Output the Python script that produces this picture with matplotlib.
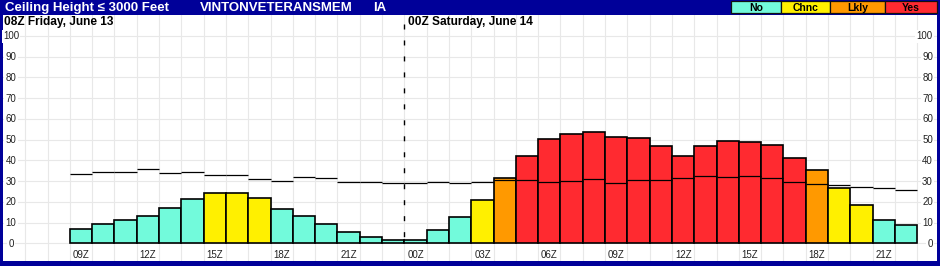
import matplotlib
matplotlib.use("Agg")
import matplotlib.pyplot as plt
from matplotlib.patches import Rectangle
import numpy as np

plt.rcParams['font.family'] = ['Liberation Sans', 'DejaVu Sans']

# hourly columns, 09Z Fri .. 22Z Sat (0 = 00Z Saturday)
hours = np.arange(-15, 23)

# probability of ceiling <= 3000 ft (bars)
prob = [7.0, 9.2, 11.2, 13.0, 16.9, 21.2, 24.1, 24.1, 21.7, 16.4,
        13.0, 9.2, 5.3, 2.9, 1.4, 1.4, 6.4, 12.5, 20.7, 31.3,
        42.0, 50.2, 52.6, 53.5, 51.1, 50.6, 46.8, 42.0, 46.8, 49.2,
        48.7, 47.3, 41.0, 35.2, 26.5, 18.3, 11.1, 8.7]

# black reference line per hour
ref = [33.3, 34.5, 34.5, 35.7, 33.8, 34.2, 32.8, 32.8, 31.2, 29.9,
       31.8, 31.3, 29.4, 29.4, 28.9, 28.9, 29.4, 28.9, 29.7, 30.5,
       30.4, 29.4, 30.2, 30.9, 28.9, 30.4, 30.4, 31.3, 32.3, 31.8,
       32.3, 31.3, 29.4, 28.5, 28.0, 27.0, 26.5, 25.6]

cats = ['No'] * 6 + ['Chnc'] * 3 + ['No'] * 9 + ['Chnc', 'Lkly'] + ['Yes'] * 13 \
       + ['Lkly'] + ['Chnc'] * 2 + ['No'] * 2

legend_names = ['No', 'Chnc', 'Lkly', 'Yes']
cat_colors = {'No': '#72FADB', 'Chnc': '#FFF000', 'Lkly': '#FF9900', 'Yes': '#FF2A30'}

title = 'Ceiling Height \u2264 3000 Feet'
station = 'VINTONVETERANSMEM'
state = 'IA'
day1 = '08Z Friday, June 13'
day2 = '00Z Saturday, June 14'

W, H = 940, 266
frame = '#000099'

fig = plt.figure(figsize=(W / 100, H / 100), dpi=100, facecolor=frame)
ax = fig.add_axes([3 / W, 5 / H, (936.7 - 3) / W, (261 - 15) / H])
ax.set_facecolor('white')
ax.set_xlim(-18.5, 23.37)
ax.set_ylim(-8.5, 110.1)
ax.set_xticks([])
ax.set_yticks([])
for s in ax.spines.values():
    s.set_visible(False)

# grid
for gx in np.arange(-17.5, 23.6, 1):
    ax.axvline(gx, color='#E8E8E8', lw=0.8, zorder=0)
for gy in range(0, 101, 10):
    ax.axhline(gy, color='#E8E8E8', lw=0.8, zorder=0)

# bars + reference line
ax.bar(hours, prob, width=1, color=[cat_colors[c] for c in cats],
       edgecolor='black', lw=1.2, zorder=2)
ax.hlines(ref, hours - 0.5, hours + 0.5, colors='black', lw=0.9, zorder=3)

# day break
ax.plot([-0.5, -0.5], [105.8, 0], color='black', lw=1,
        linestyle=(0, (3.6, 7.9)), zorder=4)

# y labels both sides
for v in range(0, 101, 10):
    ax.text(-18.14, v - 1.7, str(v), ha='center', va='baseline', fontsize=7,
            color='#222222', bbox=dict(facecolor='white', edgecolor='none', pad=1), zorder=5)
    ax.text(23.2, v - 1.7, str(v), ha='right', va='baseline', fontsize=7,
            color='#222222', bbox=dict(facecolor='white', edgecolor='none', pad=1), zorder=5)

# hour labels
for h in hours:
    hod = h % 24
    if hod % 3 == 0:
        ax.text(h, -7.2, '%02dZ' % hod, ha='center', va='baseline', fontsize=7,
                color='#222222', zorder=5)

# day headers
fig.text(4 / W, (H - 25) / H, day1, ha='left', va='baseline', fontsize=8.6,
         fontweight='bold', color='black')
ax.text(-0.36, (243.3 - 25) / 2.073, day2, ha='left', va='baseline', fontsize=8.6,
        fontweight='bold', color='black', zorder=5)

# title bar
fig.text(5 / W, (H - 11) / H, title, ha='left', va='baseline', fontsize=9.5,
         fontweight='bold', color='white')
fig.text(200 / W, (H - 11) / H, station, ha='left', va='baseline', fontsize=9.5,
         fontweight='bold', color='white')
fig.text(373 / W, (H - 11) / H, state, ha='left', va='baseline', fontsize=9.5,
         fontweight='bold', color='white')

# legend boxes
box_edges = [730.7, 780.7, 830, 885, 936.7]
for i, name in enumerate(legend_names):
    x0, x1 = box_edges[i], box_edges[i + 1]
    fig.add_artist(Rectangle((x0 / W, (H - 12.7) / H), (x1 - x0) / W, 11.7 / H,
                             transform=fig.transFigure, facecolor=cat_colors[name],
                             edgecolor='#111111', lw=0.9))
    fig.text((x0 + x1) / 2 / W, (H - 10.7) / H, name, ha='center', va='baseline',
             fontsize=7.5, fontweight='bold', color='black')

fig.savefig('out.png', dpi=100, facecolor=frame)
